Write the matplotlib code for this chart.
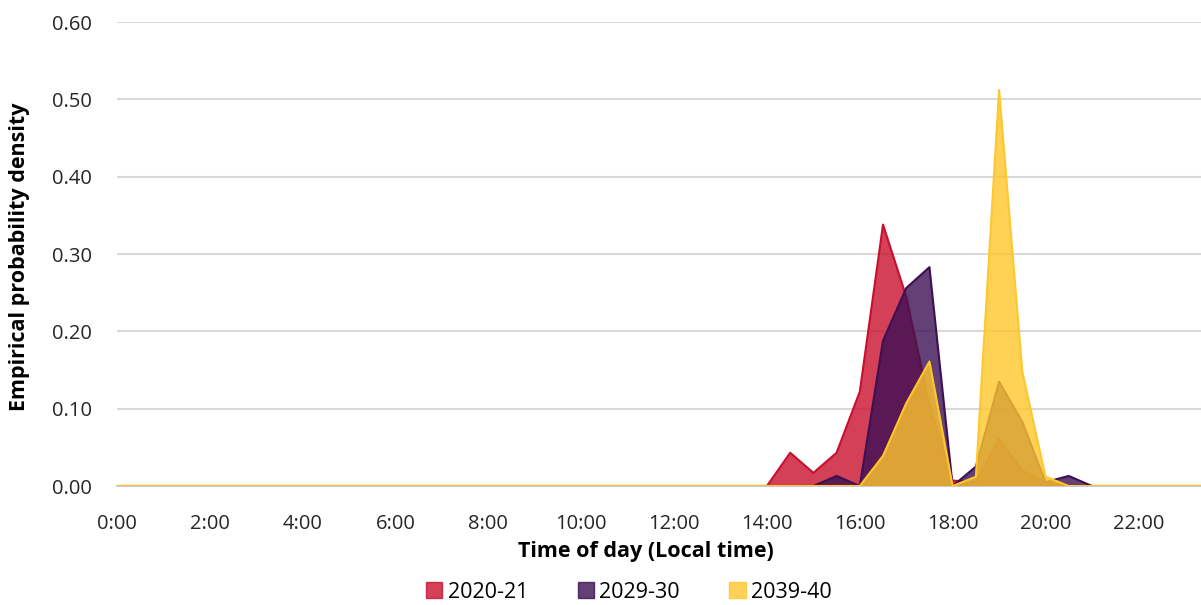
import numpy as np
import matplotlib
matplotlib.use("Agg")
from matplotlib import pyplot as plt
from matplotlib.patches import Patch

plt.rcParams['font.family'] = ['Open Sans', 'DejaVu Sans']

# half-hour bins, 0:00 .. 23:30
hours = np.arange(48) * 0.5
tick_hours = [0, 2, 4, 6, 8, 10, 12, 14, 16, 18, 20, 22]
tick_labels = ["0:00", "2:00", "4:00", "6:00", "8:00", "10:00",
               "12:00", "14:00", "16:00", "18:00", "20:00", "22:00"]

# values from 14:00 onwards, everything before is zero
y_2020 = [0.0] * 28 + [0.0, 0.043, 0.017, 0.043, 0.122, 0.338, 0.245, 0.105,
                       0.007, 0.005, 0.061, 0.020, 0.005, 0.0, 0.0, 0.0,
                       0.0, 0.0, 0.0, 0.0]
y_2029 = [0.0] * 28 + [0.0, 0.0, 0.0, 0.013, 0.0, 0.188, 0.256, 0.283,
                       0.0, 0.025, 0.135, 0.083, 0.005, 0.013, 0.0, 0.0,
                       0.0, 0.0, 0.0, 0.0]
y_2039 = [0.0] * 28 + [0.0, 0.0, 0.0, 0.0, 0.0, 0.039, 0.107, 0.161,
                       0.0, 0.012, 0.512, 0.148, 0.012, 0.0, 0.0, 0.0,
                       0.0, 0.0, 0.0, 0.0]

series = [("2020-21", y_2020, "#C8102E"),
          ("2029-30", y_2029, "#3C1053"),
          ("2039-40", y_2039, "#FFC72C")]

fig = plt.figure(figsize=(12.01, 6.05), dpi=100)
ax = fig.add_axes([117 / 1201, 119 / 605, 1091 / 1201, 464 / 605])

# each area keeps its own outline, later areas sit on top
for i, (name, vals, col) in enumerate(series):
    ax.fill_between(hours, vals, 0, facecolor=col, alpha=0.8, linewidth=0, zorder=3 + 2 * i)
    ax.plot(hours, vals, color=col, linewidth=1.5, zorder=4 + 2 * i)

ax.set_xlim(0, 23.5)
ax.set_ylim(0, 0.6)
ax.set_yticks([0, 0.1, 0.2, 0.3, 0.4, 0.5, 0.6])
ax.set_yticklabels(["0.00", "0.10", "0.20", "0.30", "0.40", "0.50", "0.60"])
ax.set_xticks(tick_hours)
ax.set_xticklabels(tick_labels)
ax.tick_params(axis='both', length=0, labelsize=14.5, colors="#262626")
ax.tick_params(axis='y', pad=18)
ax.tick_params(axis='x', pad=20)
ax.grid(axis='y', color="#D9D9D9", linewidth=1.5, zorder=0)
ax.set_axisbelow(True)
for s in ["top", "right", "left"]:
    ax.spines[s].set_visible(False)
ax.spines["bottom"].set_color("#BFBFBF")
ax.spines["bottom"].set_linewidth(1.2)

fig.text(20 / 1201, 1 - 257 / 605, "Empirical probability density", rotation=90,
         ha='center', va='center', fontsize=15.5, fontweight='bold')
fig.text(646 / 1201, 1 - 552 / 605, "Time of day (Local time)",
         ha='center', va='center', fontsize=15.5, fontweight='bold')

handles = [Patch(facecolor=col, edgecolor=col, alpha=0.8, label=name)
           for name, vals, col in series]
fig.legend(handles=handles, loc='center', bbox_to_anchor=(629 / 1201, 1 - 592 / 605),
           ncol=3, frameon=False, fontsize=15.5, handlelength=0.75, handleheight=0.75,
           handletextpad=0.25, columnspacing=2.3)

fig.savefig("out.png", dpi=100)
